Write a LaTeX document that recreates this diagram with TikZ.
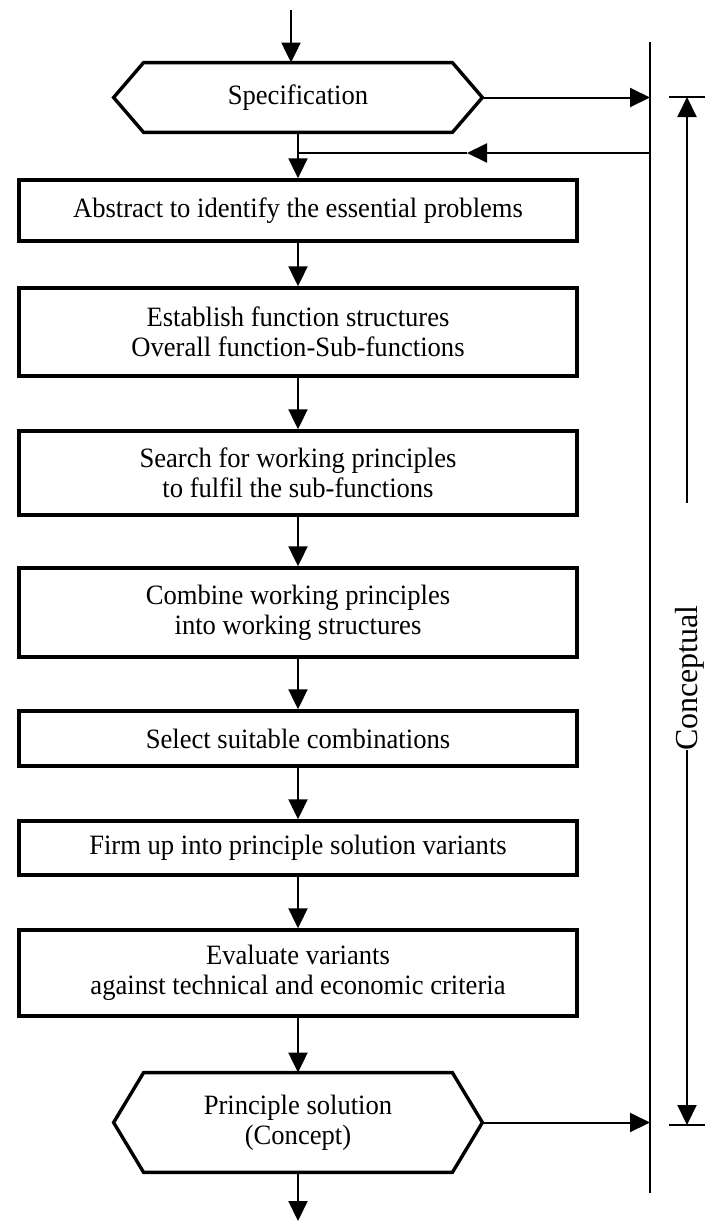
\documentclass[tikz,border=0pt]{standalone}
\usepackage{fontspec}
\setmainfont{Liberation Serif}
\newfontfamily\stepfamily{Liberation Serif}[FakeStretch=0.95]
\usetikzlibrary{arrows.meta}
\newcommand\boxfont{\stepfamily\fontsize{14}{15}\selectfont}
\newcommand\phasefont{\fontsize{16}{18}\selectfont}
\begin{document}
\begin{tikzpicture}[x=0.5pt,y=-0.5pt,
  conn/.style={line width=1pt},
  arr/.style={conn,-{Triangle[length=10pt,width=9.5pt]}},
  stepbox/.style={draw,line width=1.7pt,minimum width=279pt,align=center,
    inner sep=0pt,font=\boxfont},
  hexnode/.style={minimum width=184pt,align=center,inner sep=0pt,font=\boxfont},
  hexline/.style={line width=1.7pt,line join=miter}]
\useasboundingbox (0,0) rectangle (718,1221);

% process steps
\node[hexnode,minimum height=34.5pt] (spec) at (298,97.5) {Specification};
\node[stepbox,minimum height=30.5pt] (abs) at (298,210.5) {Abstract to identify the essential problems};
\node[stepbox,minimum height=44pt] (fun) at (298,332) {Establish function structures\\Overall function-Sub-functions};
\node[stepbox,minimum height=42pt] (sea) at (298,473) {Search for working principles\\to fulfil the sub-functions};
\node[stepbox,minimum height=44.5pt] (com) at (298,612.5) {Combine working principles\\into working structures};
\node[stepbox,minimum height=27.5pt] (sel) at (298,738.5) {Select suitable combinations};
\node[stepbox,minimum height=27pt] (firm) at (298,848) {Firm up into principle solution variants};
\node[stepbox,minimum height=43pt] (eva) at (298,973) {Evaluate variants\\against technical and economic criteria};
\node[hexnode,minimum height=49.5pt] (sol) at (298,1122.5) {Principle solution\\(Concept)};

% hexagonal outlines of input and result
\foreach \n in {spec,sol}
  \draw[hexline] (\n.west) -- ([xshift=15pt]\n.north west) -- ([xshift=-15pt]\n.north east)
    -- (\n.east) -- ([xshift=-15pt]\n.south east) -- ([xshift=15pt]\n.south west) -- cycle;

% main flow
\coordinate (in) at (291,10);
\coordinate (out) at (298,1221);
\draw[arr] (in) -- (in |- spec.north);
\draw[arr] (spec.south) -- (abs.north);
\draw[arr] (abs.south) -- (fun.north);
\draw[arr] (fun.south) -- (sea.north);
\draw[arr] (sea.south) -- (com.north);
\draw[arr] (com.south) -- (sel.north);
\draw[arr] (sel.south) -- (firm.north);
\draw[arr] (firm.south) -- (eva.north);
\draw[arr] (eva.south) -- (sol.north);
\draw[arr] (sol.south) -- (out);

% information line on the right with feedback
\coordinate (vt) at (650,42);
\coordinate (vb) at (650,1193);
\draw[conn] (vt) -- (vb);
\draw[arr] (spec.east) -- (spec.east -| vt);
\draw[arr] (sol.east) -- (sol.east -| vt);
\coordinate (fbS) at (650,153);
\coordinate (fbM) at (467,153);
\coordinate (fbJ) at (298,153);
\draw[arr] (fbS) -- (fbM);
\draw[conn] (fbM) -- (fbJ);

% extent of the conceptual phase
\coordinate (btop) at (687,97);
\coordinate (bbot) at (687,1125);
\coordinate (bgapT) at (687,503);
\coordinate (bgapB) at (687,750);
\draw[conn] (669,97) -- (705,97);
\draw[conn] (669,1125) -- (705,1125);
\draw[arr] (bgapT) -- (btop);
\draw[arr] (bgapB) -- (bbot);
\node[rotate=90,inner sep=0pt,font=\phasefont] (phase) at (690,678) {Conceptual};
\end{tikzpicture}
\end{document}
